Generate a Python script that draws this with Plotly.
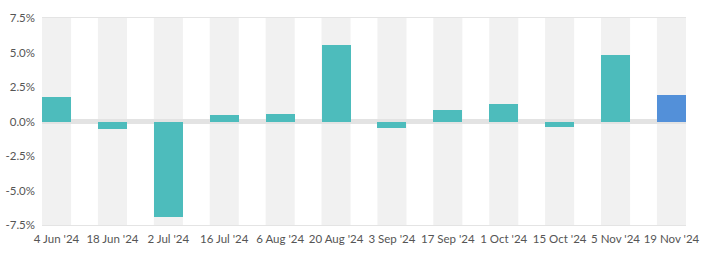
import plotly.graph_objects as go

categories = ["4 Jun '24", "18 Jun '24", "2 Jul '24", "16 Jul '24", "6 Aug '24", "20 Aug '24",
              "3 Sep '24", "17 Sep '24", "1 Oct '24", "15 Oct '24", "5 Nov '24", "19 Nov '24"]
values = [1.75, -0.57, -6.92, 0.47, 0.56, 5.56, -0.47, 0.84, 1.25, -0.38, 4.84, 1.93]
highlight_index = 11
y_ticks = [-7.5, -5.0, -2.5, 0.0, 2.5, 5.0, 7.5]

teal = "#4dbcbc"
blue = "#5390d9"
colors = [blue if i == highlight_index else teal for i in range(len(values))]

bar_width = 0.52

fig = go.Figure()
fig.add_trace(go.Bar(
    x=list(range(len(categories))), y=values, marker_color=colors,
    marker_line_width=0, width=bar_width, hoverinfo="x+y"))

# gray background columns behind each category
for i in range(len(categories)):
    fig.add_shape(type="rect", xref="x", yref="y",
                  x0=i - bar_width / 2, x1=i + bar_width / 2,
                  y0=y_ticks[0], y1=y_ticks[-1],
                  fillcolor="#f1f1f1", line_width=0, layer="below")

fig.update_layout(
    width=720, height=258,
    margin=dict(l=42, r=34, t=18, b=33),
    paper_bgcolor="white", plot_bgcolor="white",
    showlegend=False,
    font=dict(family="Lato, sans-serif", size=11.5, color="#555555"),
    bargap=0,
)
fig.update_xaxes(
    tickmode="array", tickvals=list(range(len(categories))), ticktext=categories,
    range=[-bar_width / 2, len(categories) - 1 + bar_width / 2],
    showgrid=False, zeroline=False, ticks="", ticklabelstandoff=3,
    tickangle=0, automargin=False,
    showline=True, mirror=True, linecolor="#e4e4e4", linewidth=1,
    tickfont=dict(size=11.5, color="#555555"),
)
fig.update_yaxes(
    range=[y_ticks[0], y_ticks[-1]], tickvals=y_ticks,
    ticktext=[f"{v:.1f}%" for v in y_ticks],
    showgrid=False, zeroline=True, zerolinecolor="#e3e3e3", zerolinewidth=5,
    ticks="", ticklabelstandoff=6, automargin=False,
    tickfont=dict(size=11.5, color="#555555"),
)

fig.write_html("out.html")
